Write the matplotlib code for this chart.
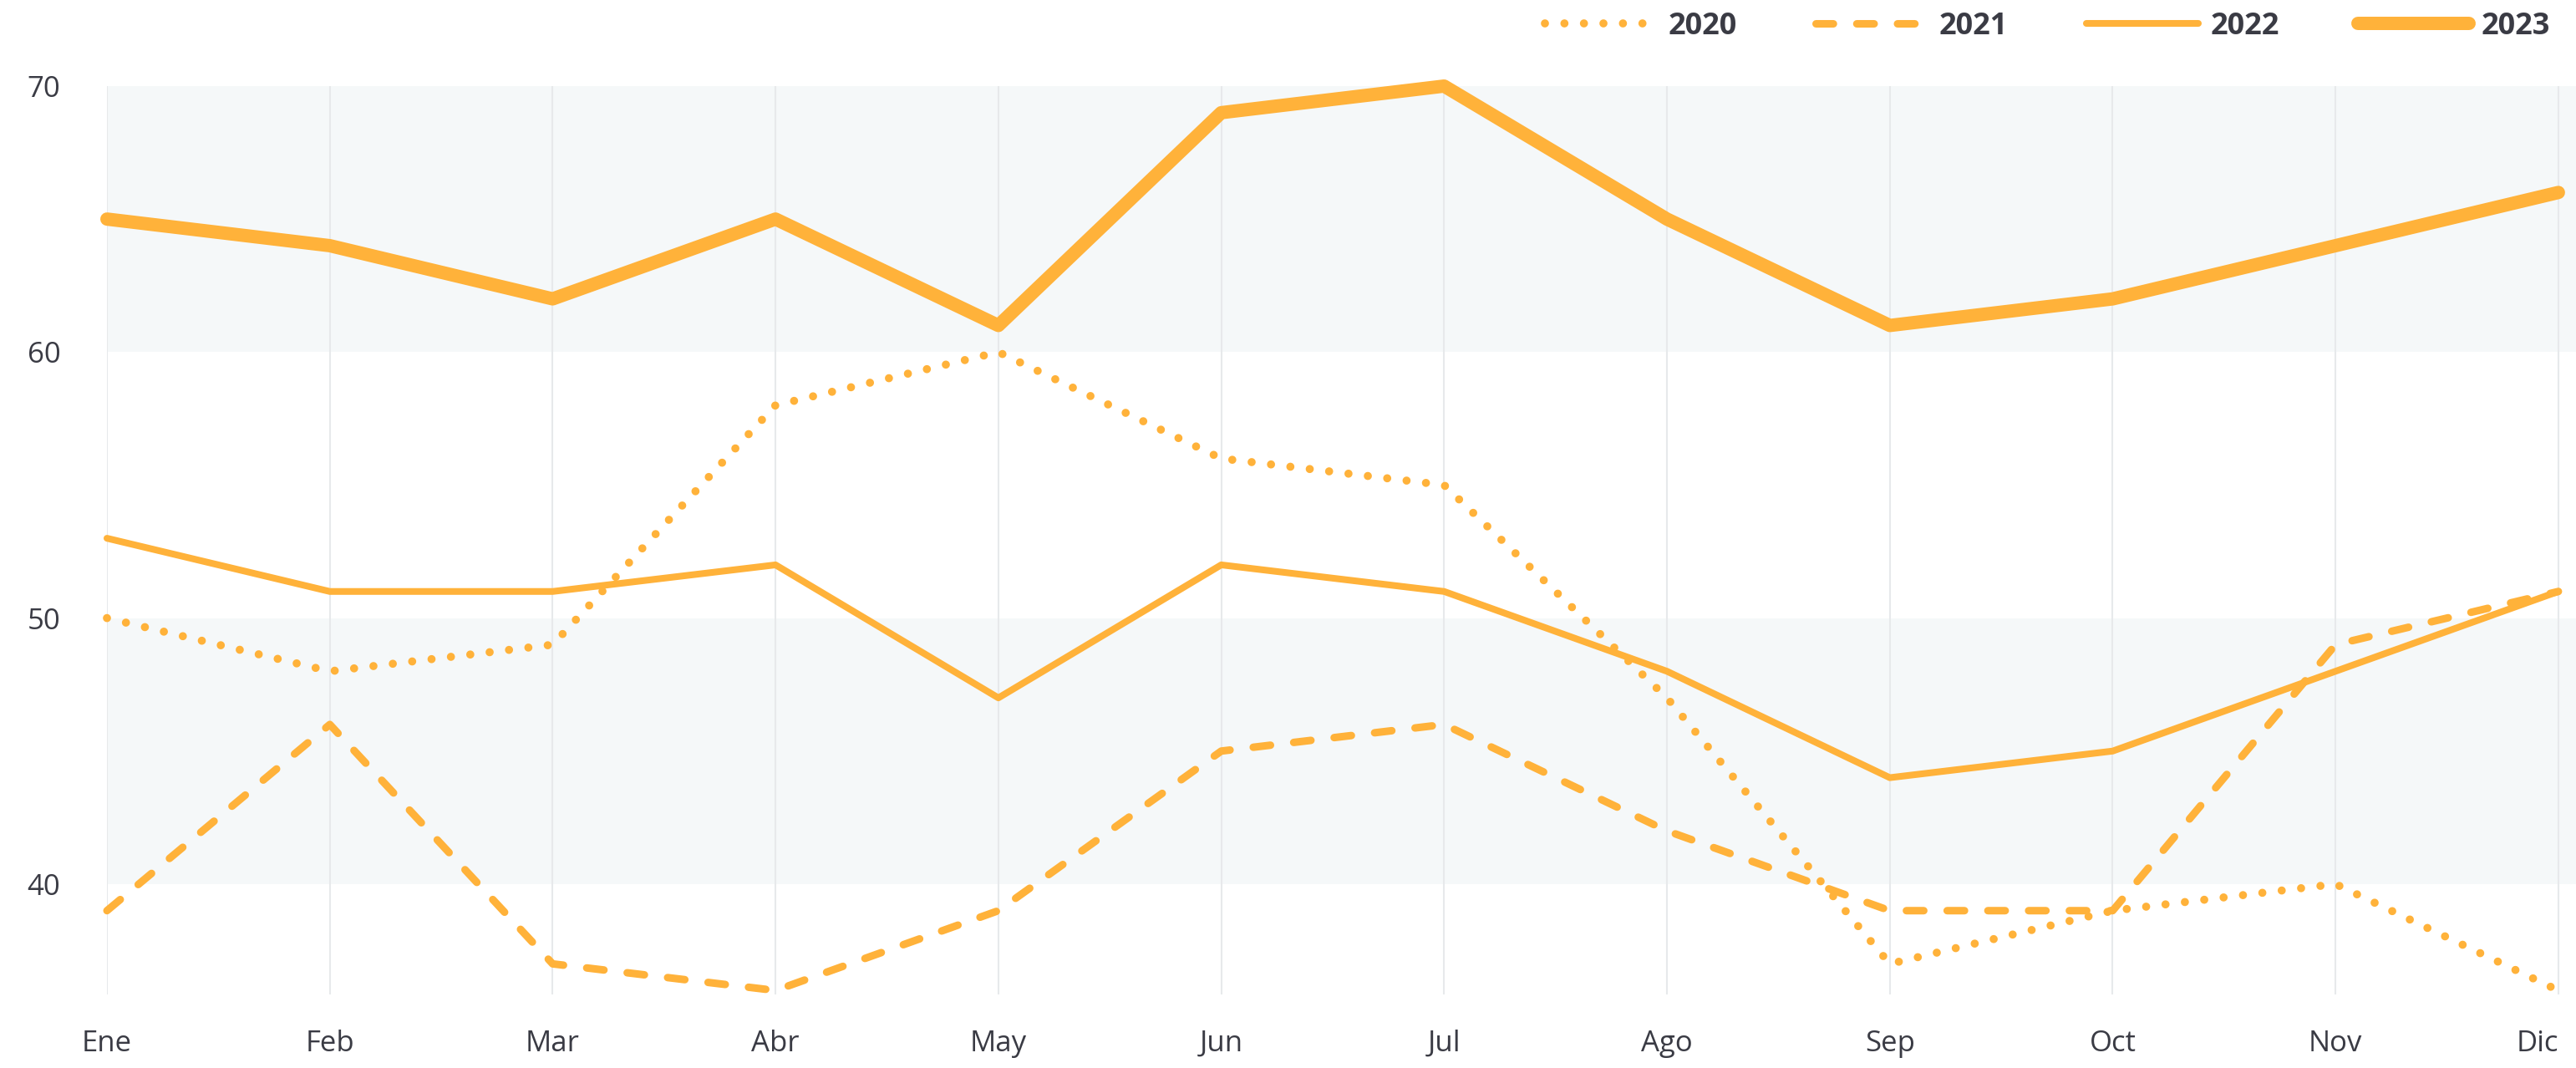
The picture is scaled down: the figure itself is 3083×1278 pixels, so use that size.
import matplotlib
matplotlib.use("Agg")
import matplotlib.pyplot as plt

# Monthly values per year
months = ["Ene", "Feb", "Mar", "Abr", "May", "Jun", "Jul", "Ago", "Sep", "Oct", "Nov", "Dic"]
years = ["2020", "2021", "2022", "2023"]
v2020 = [50, 48, 49, 58, 60, 56, 55, 47, 37, 39, 40, 36]
v2021 = [39, 46, 37, 36, 39, 45, 46, 42, 39, 39, 49, 51]
v2022 = [53, 51, 51, 52, 47, 52, 51, 48, 44, 45, 48, 51]
v2023 = [65, 64, 62, 65, 61, 69, 70, 65, 61, 62, 64, 66]
y_ticks = [40, 50, 60, 70]
bands = [(40, 50), (60, 70)]

ORANGE = "#FFB23A"
TEXT = "#3a3b44"
BAND = "#f5f8f9"
GRID = "#e7e9eb"

plt.rcParams["font.family"] = ["Open Sans", "DejaVu Sans"]

W, H, DPI = 3083, 1278, 100
fig = plt.figure(figsize=(W / DPI, H / DPI), dpi=DPI)
ax = fig.add_axes([128 / W, 1 - 1190 / H, 1 - 128 / W, (1190 - 103) / H])

x = list(range(len(months)))

for lo, hi in bands:
    ax.axhspan(lo, hi, color=BAND, zorder=0, lw=0)
for xi in x:
    ax.axvline(xi, color=GRID, lw=1.5, zorder=1)

styles = [
    dict(lw=7.0, linestyle=(0, (0.001, 2.4)), dash_capstyle="round"),
    dict(lw=6.5, linestyle=(0, (2.3, 3.1)), dash_capstyle="round"),
    dict(lw=5.8, linestyle="-", solid_capstyle="round"),
    dict(lw=11.5, linestyle="-", solid_capstyle="round"),
]
series = [v2020, v2021, v2022, v2023]
handles = []
for vals, st, name in zip(series, styles, years):
    ln, = ax.plot(x, vals, color=ORANGE, solid_joinstyle="round",
                  dash_joinstyle="round", clip_on=False, zorder=3, label=name, **st)
    handles.append(ln)

ax.set_xlim(0, 11.079)
ax.set_ylim(35.85, 70)
ax.set_xticks(x)
ax.set_xticklabels(months)
ax.set_yticks(y_ticks)
ax.tick_params(axis="both", length=0, labelsize=25, labelcolor=TEXT)
ax.tick_params(axis="x", pad=30)
ax.tick_params(axis="y", pad=40)
ax.get_xticklabels()[-1].set_horizontalalignment("right")
ax.get_xticklabels()[-1].set_x(11.06)
for s in ax.spines.values():
    s.set_visible(False)

leg = fig.legend(handles=handles, loc="upper right", bbox_to_anchor=(3052 / W, 1 - 14 / H),
                 ncol=4, frameon=False, handlelength=3.7, handletextpad=0.4,
                 columnspacing=2.6, borderpad=0, borderaxespad=0,
                 prop=dict(family=["Open Sans", "DejaVu Sans"], weight="bold", size=26))
for t in leg.get_texts():
    t.set_color(TEXT)

fig.savefig("out.png", dpi=DPI)
